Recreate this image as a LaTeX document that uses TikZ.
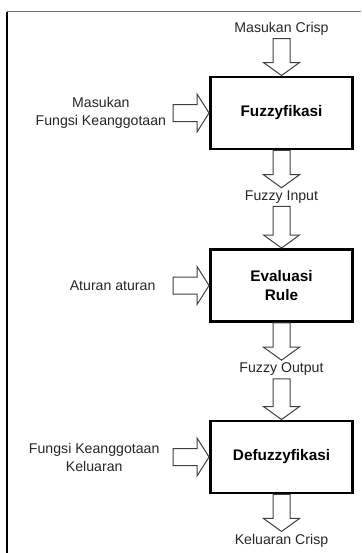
\documentclass[tikz,border=0pt]{standalone}
\usepackage{fontspec}
\setmainfont{Liberation Sans}
\usetikzlibrary{positioning,calc}

% hollow block arrows: downward (label/box to box/label) and rightward (label to box)
\newcommand{\fatdown}[2]{%
  \draw[fatarrow] ($(#1.south)+(-8.5,0)$) -- ($(#2.north)+(-8.5,13)$) -- ($(#2.north)+(-18,13)$)
    -- (#2.north) -- ($(#2.north)+(18,13)$) -- ($(#2.north)+(8.5,13)$) -- ($(#1.south)+(8.5,0)$) -- cycle;}
\newcommand{\fatright}[2]{%
  \draw[fatarrow] ($(#1.east -| #2.west)+(-36,8.5)$) -- ($(#2.west)+(-12,8.5)$) -- ($(#2.west)+(-12,19)$)
    -- (#2.west) -- ($(#2.west)+(-12,-19)$) -- ($(#2.west)+(-12,-8.5)$) -- ($(#1.east -| #2.west)+(-36,-8.5)$) -- cycle;}

\begin{document}
\begin{tikzpicture}[x=0.75pt, y=0.75pt, node distance=63pt,
  stage/.style={draw, line width=2.2pt, minimum width=106.5pt, minimum height=54pt, align=center,
    font=\fontsize{11.5}{14.3}\selectfont\bfseries},
  lbl/.style={inner sep=2pt, align=center, text=black!85, font=\fontsize{10.6}{13.5}\selectfont},
  fatarrow/.style={draw=black!75, line width=0.75pt, line join=miter}]
\useasboundingbox (0,0) rectangle (361,-553);

% frame
\draw[black!55, line width=0.75pt] (7,-11.5) -- (361,-11.5);
\draw[line width=1.5pt] (7,-11.5) -- (7,-553);

% stages
\node[stage] (fuzz) at (281.5,-113) {Fuzzyfikasi};
\node[stage] (eval) at (281.5,-285.5) {Evaluasi\\Rule};
\node[stage] (defuzz) at (281.5,-457) {Defuzzyfikasi};

% inputs and outputs
\node[lbl] (crispin) [above of=fuzz] {Masukan Crisp};
\node[lbl] (fin) [below of=fuzz] {Fuzzy Input};
\node[lbl] (fout) [below of=eval] {Fuzzy Output};
\node[lbl] (crispout) [below of=defuzz] {Keluaran Crisp};
\node[lbl] (mfin) [left=30pt of fuzz] {Masukan\\Fungsi Keanggotaan};
\node[lbl] (rules) [left=38pt of eval] {Aturan aturan};
\node[lbl] (mfout) [left=35pt of defuzz] {Fungsi Keanggotaan\\Keluaran};

% arrows
\fatdown{crispin}{fuzz}
\fatdown{fuzz}{fin}
\fatdown{fin}{eval}
\fatdown{eval}{fout}
\fatdown{fout}{defuzz}
\fatdown{defuzz}{crispout}
\fatright{mfin}{fuzz}
\fatright{rules}{eval}
\fatright{mfout}{defuzz}
\end{tikzpicture}
\end{document}
